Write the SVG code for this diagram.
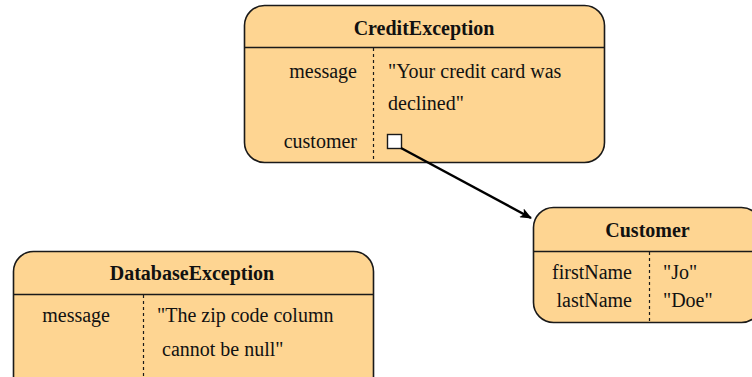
<svg xmlns="http://www.w3.org/2000/svg" width="752" height="377" viewBox="0 0 752 377">
<style>
.box{fill:#fed592;stroke:#1a1a1a;stroke-width:1.6}
.sep{stroke:#1a1a1a;stroke-width:1.4}
.div{stroke:#1a1a1a;stroke-width:1.2;stroke-dasharray:3,3}
text{font-family:"Liberation Serif","Times New Roman",serif;font-size:20px;fill:#111}
.t{font-weight:bold;text-anchor:middle}
.r{text-anchor:end}
</style>
<defs>
<marker id="ah" markerWidth="12" markerHeight="10" refX="11" refY="5" orient="auto" markerUnits="userSpaceOnUse">
<path d="M0,0 L12,5 L0,10 L3,5 Z" fill="#000"/>
</marker>
</defs>
<rect width="752" height="377" fill="#fff"/>
<g id="creditException">
<rect class="box" x="244.5" y="5.5" width="360" height="157" rx="20"/>
<line class="sep" x1="244.5" y1="47.5" x2="604.5" y2="47.5"/>
<line class="div" x1="373.5" y1="48" x2="373.5" y2="162"/>
<text class="t" x="424" y="35">CreditException</text>
<text class="r" x="357" y="78">message</text>
<text x="388" y="78">"Your credit card was</text>
<text x="388" y="110">declined"</text>
<text class="r" x="357" y="148">customer</text>
<rect x="387.5" y="134.5" width="14" height="14" fill="#fff" stroke="#1a1a1a" stroke-width="1.4"/>
</g>
<g id="customer">
<rect class="box" x="533.5" y="207.5" width="228" height="115" rx="20"/>
<line class="sep" x1="533.5" y1="251.5" x2="761.5" y2="251.5"/>
<line class="div" x1="649.5" y1="252" x2="649.5" y2="322"/>
<text class="t" x="647.5" y="237">Customer</text>
<text class="r" x="632" y="279">firstName</text>
<text class="r" x="632" y="307">lastName</text>
<text x="663" y="279">"Jo"</text>
<text x="663" y="307">"Doe"</text>
</g>
<g id="databaseException">
<rect class="box" x="13.5" y="251.5" width="360" height="150" rx="20"/>
<line class="sep" x1="13.5" y1="294.5" x2="373.5" y2="294.5"/>
<line class="div" x1="143.5" y1="295" x2="143.5" y2="377"/>
<text class="t" x="192" y="280">DatabaseException</text>
<text class="r" x="110" y="322">message</text>
<text x="157" y="322">"The zip code column</text>
<text x="162" y="356">cannot be null"</text>
</g>
<g id="connectors">
<line x1="401" y1="148" x2="531" y2="218" stroke="#000" stroke-width="2.4" marker-end="url(#ah)"/>
</g>
</svg>
